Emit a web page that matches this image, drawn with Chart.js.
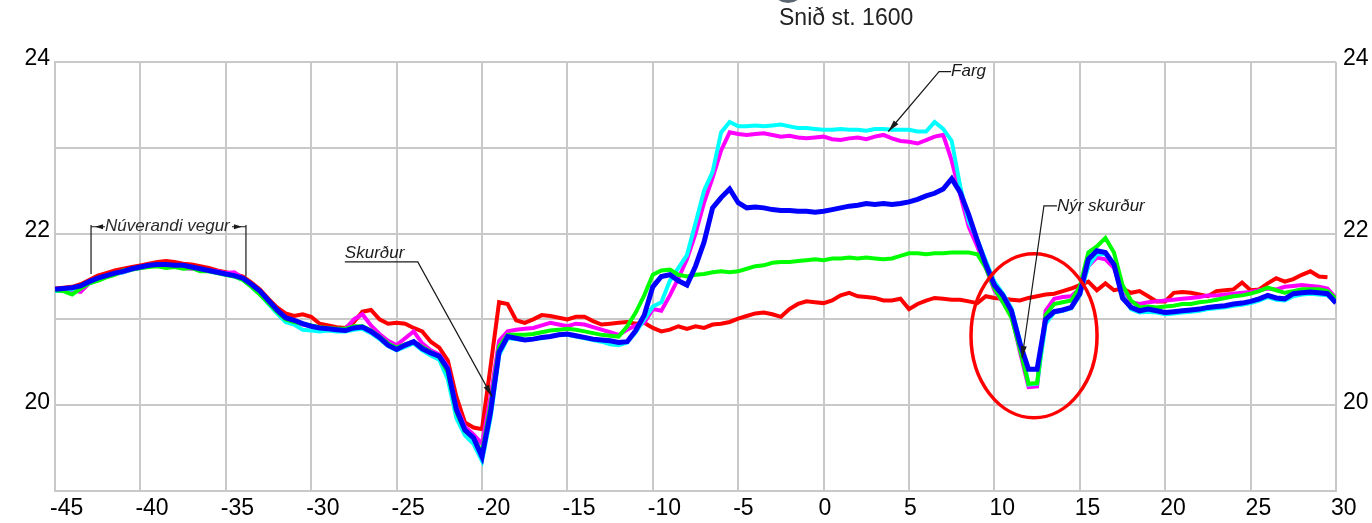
<!DOCTYPE html>
<html>
<head>
<meta charset="utf-8">
<script src="https://cdn.jsdelivr.net/npm/chart.js@4.4.1/dist/chart.umd.min.js"></script>
<style>
  html, body { margin: 0; padding: 0; background: #ffffff; }
  #wrap { width: 1372px; height: 523px; position: relative; }
</style>
</head>
<body>
<div id="wrap"><canvas id="c" width="1372" height="523"></canvas></div>
<script>
// Fjarlægð frá miðlínu (m)
const stations = [
  -45, -44.5, -44, -43.5, -43, -42.5, -42, -41.5, -41, -40.5,
  -40, -39.5, -39, -38.5, -38, -37.5, -37, -36.5, -36, -35.5,
  -35, -34.5, -34, -33.5, -33, -32.5, -32, -31.5, -31, -30.5,
  -30, -29.5, -29, -28.5, -28, -27.5, -27, -26.5, -26, -25.5,
  -25, -24.5, -24, -23.5, -23, -22.5, -22, -21.5, -21, -20.5,
  -20, -19.5, -19, -18.5, -18, -17.5, -17, -16.5, -16, -15.5,
  -15, -14.5, -14, -13.5, -13, -12.5, -12, -11.5, -11, -10.5,
  -10, -9.5, -9, -8.5, -8, -7.5, -7, -6.5, -6, -5.5,
  -5, -4.5, -4, -3.5, -3, -2.5, -2, -1.5, -1, -0.5,
  0, 0.5, 1, 1.5, 2, 2.5, 3, 3.5, 4, 4.5,
  5, 5.5, 6, 6.5, 7, 7.5, 8, 8.5, 9, 9.5,
  10, 10.5, 11, 11.5, 12, 12.5, 13, 13.5, 14, 14.5,
  15, 15.5, 16, 16.5, 17, 17.5, 18, 18.5, 19, 19.5,
  20, 20.5, 21, 21.5, 22, 22.5, 23, 23.5, 24, 24.5,
  25, 25.5, 26, 26.5, 27, 27.5, 28, 28.5, 29, 29.5,
  30
];

// Hæð yfirborðs (m) í hverri mælingu
const levelRed = [
  21.36, 21.37, 21.38, 21.41, 21.46, 21.51, 21.54, 21.57, 21.59, 21.61,
  21.63, 21.65, 21.67, 21.68, 21.67, 21.65, 21.64, 21.62, 21.60, 21.57,
  21.55, 21.53, 21.50, 21.43, 21.35, 21.24, 21.14, 21.07, 21.04, 21.06,
  21.03, 20.95, 20.93, 20.91, 20.90, 20.97, 21.09, 21.11, 21.00, 20.95,
  20.96, 20.95, 20.90, 20.86, 20.74, 20.67, 20.52, 20.10, 19.80, 19.74,
  19.72, 20.45, 21.20, 21.18, 20.99, 20.96, 21.00, 21.05, 21.04, 21.02,
  21.00, 21.03, 21.03, 20.98, 20.94, 20.95, 20.96, 20.97, 20.95, 20.96,
  20.90, 20.86, 20.88, 20.92, 20.89, 20.92, 20.90, 20.94, 20.95, 20.97,
  21.01, 21.04, 21.07, 21.08, 21.06, 21.03, 21.12, 21.18, 21.21, 21.20,
  21.19, 21.22, 21.28, 21.31, 21.27, 21.26, 21.25, 21.22, 21.22, 21.24,
  21.12, 21.18, 21.22, 21.25, 21.24, 21.23, 21.23, 21.21, 21.19, 21.27,
  21.25, 21.24, 21.23, 21.22, 21.25, 21.27, 21.29, 21.30, 21.33, 21.36,
  21.40, 21.44, 21.34, 21.42, 21.34, 21.36, 21.31, 21.33, 21.27, 21.21,
  21.21, 21.31, 21.32, 21.31, 21.29, 21.27, 21.33, 21.34, 21.35, 21.43,
  21.34, 21.35, 21.42, 21.48, 21.44, 21.47, 21.52, 21.56, 21.50, 21.49,
  null
];

const levelMagenta = [
  21.33, 21.35, 21.34, 21.32, 21.42, 21.46, 21.50, 21.53, 21.55, 21.58,
  21.60, 21.62, 21.63, 21.63, 21.62, 21.60, 21.59, 21.58, 21.57, 21.56,
  21.54, 21.55, 21.48, 21.40, 21.31, 21.20, 21.10, 21.01, 20.97, 20.94,
  20.92, 20.90, 20.88, 20.88, 20.89, 21.00, 21.06, 20.93, 20.83, 20.75,
  20.70, 20.78, 20.86, 20.72, 20.64, 20.59, 20.45, 19.98, 19.75, 19.66,
  19.55, 20.10, 20.75, 20.86, 20.88, 20.89, 20.90, 20.93, 20.96, 20.94,
  20.92, 20.95, 20.94, 20.91, 20.88, 20.85, 20.82, 20.88, 20.93, 20.96,
  21.12, 21.10, 21.28, 21.48, 21.70, 22.00, 22.36, 22.65, 22.97, 23.18,
  23.16, 23.15, 23.16, 23.17, 23.15, 23.13, 23.14, 23.12, 23.11, 23.12,
  23.13, 23.10, 23.09, 23.11, 23.12, 23.10, 23.13, 23.15, 23.11, 23.08,
  23.07, 23.05, 23.09, 23.13, 23.15, 22.85, 22.45, 22.08, 21.85, 21.60,
  21.34, 21.20, 21.05, 20.62, 20.21, 20.22, 21.10, 21.24, 21.26, 21.27,
  21.36, 21.62, 21.72, 21.70, 21.60, 21.30, 21.20, 21.18, 21.20, 21.21,
  21.22, 21.23, 21.24, 21.25, 21.26, 21.28, 21.28, 21.29, 21.30, 21.31,
  21.32, 21.34, 21.36, 21.35, 21.38, 21.39, 21.40, 21.39, 21.38, 21.36,
  21.25
];

const levelCyan = [
  21.33, 21.33, 21.35, 21.37, 21.42, 21.46, 21.50, 21.53, 21.55, 21.58,
  21.60, 21.62, 21.63, 21.63, 21.62, 21.61, 21.60, 21.58, 21.56, 21.54,
  21.52, 21.50, 21.46, 21.38, 21.29, 21.18, 21.07, 20.97, 20.94, 20.88,
  20.87, 20.86, 20.87, 20.86, 20.86, 20.88, 20.89, 20.84, 20.77, 20.69,
  20.64, 20.68, 20.72, 20.64, 20.58, 20.53, 20.30, 19.85, 19.65, 19.55,
  19.35, 19.85, 20.58, 20.78, 20.77, 20.76, 20.77, 20.78, 20.80, 20.82,
  20.82, 20.80, 20.78, 20.76, 20.74, 20.71, 20.70, 20.73, 20.85, 21.00,
  21.15, 21.20, 21.45, 21.60, 21.75, 22.12, 22.50, 22.72, 23.18, 23.30,
  23.25, 23.25, 23.26, 23.25, 23.26, 23.27, 23.25, 23.23, 23.23, 23.22,
  23.21, 23.21, 23.22, 23.21, 23.21, 23.20, 23.22, 23.22, 23.21, 23.21,
  23.21, 23.19, 23.19, 23.30, 23.22, 23.08, 22.55, 22.14, 21.93, 21.68,
  21.44, 21.30, 21.13, 20.75, 20.24, 20.25, 20.95, 21.08, 21.10, 21.13,
  21.28, 21.62, 21.76, 21.76, 21.65, 21.28, 21.12, 21.08, 21.09, 21.08,
  21.06, 21.07, 21.08, 21.09, 21.10, 21.12, 21.13, 21.14, 21.16, 21.17,
  21.19, 21.22, 21.26, 21.23, 21.22, 21.27, 21.29, 21.30, 21.29, 21.28,
  21.20
];

const levelGreen = [
  21.34, 21.33, 21.29, 21.36, 21.42, 21.45, 21.49, 21.52, 21.57, 21.58,
  21.60, 21.61, 21.62, 21.60, 21.61, 21.59, 21.60, 21.56, 21.56, 21.54,
  21.52, 21.50, 21.46, 21.38, 21.29, 21.19, 21.09, 21.00, 20.97, 20.95,
  20.93, 20.91, 20.90, 20.89, 20.89, 20.92, 20.92, 20.87, 20.80, 20.72,
  20.67, 20.71, 20.74, 20.68, 20.62, 20.56, 20.38, 19.92, 19.70, 19.62,
  19.45, 20.00, 20.68, 20.82, 20.82, 20.82, 20.83, 20.85, 20.87, 20.88,
  20.89, 20.88, 20.86, 20.84, 20.82, 20.81, 20.80, 20.92, 21.08, 21.28,
  21.52, 21.57, 21.58, 21.52, 21.50, 21.52, 21.53, 21.55, 21.56, 21.55,
  21.56, 21.59, 21.62, 21.63, 21.66, 21.67, 21.67, 21.68, 21.69, 21.70,
  21.69, 21.71, 21.71, 21.72, 21.71, 21.72, 21.71, 21.70, 21.71, 21.74,
  21.77, 21.77, 21.76, 21.77, 21.77, 21.78, 21.78, 21.78, 21.76, 21.60,
  21.36, 21.20, 21.02, 20.65, 20.25, 20.26, 21.05, 21.18, 21.20, 21.22,
  21.38, 21.78, 21.85, 21.95, 21.78, 21.40, 21.22, 21.14, 21.15, 21.14,
  21.15, 21.16, 21.18, 21.18, 21.20, 21.21, 21.23, 21.25, 21.27, 21.28,
  21.30, 21.33, 21.37, 21.34, 21.31, 21.33, 21.35, 21.35, 21.35, 21.33,
  21.24
];

const levelBlue = [
  21.35, 21.36, 21.37, 21.39, 21.44, 21.48, 21.51, 21.54, 21.56, 21.59,
  21.61, 21.63, 21.64, 21.64, 21.63, 21.63, 21.61, 21.59, 21.57, 21.55,
  21.53, 21.51, 21.48, 21.41, 21.33, 21.22, 21.11, 21.02, 20.99, 20.95,
  20.92, 20.90, 20.89, 20.88, 20.87, 20.90, 20.91, 20.86, 20.79, 20.70,
  20.65, 20.70, 20.74, 20.66, 20.61, 20.57, 20.42, 19.95, 19.71, 19.62,
  19.40, 19.92, 20.62, 20.80, 20.78, 20.76, 20.77, 20.79, 20.80, 20.82,
  20.83, 20.81, 20.79, 20.77, 20.76, 20.75, 20.73, 20.74, 20.87, 21.05,
  21.38, 21.50, 21.52, 21.45, 21.40, 21.62, 21.90, 22.30, 22.42, 22.52,
  22.36, 22.30, 22.31, 22.30, 22.28, 22.27, 22.27, 22.26, 22.26, 22.25,
  22.26, 22.28, 22.30, 22.32, 22.33, 22.35, 22.34, 22.35, 22.34, 22.35,
  22.37, 22.40, 22.44, 22.47, 22.52, 22.64, 22.48, 22.22, 21.92, 21.64,
  21.40, 21.28, 21.10, 20.72, 20.42, 20.42, 21.00, 21.09, 21.11, 21.14,
  21.30, 21.70, 21.80, 21.78, 21.64, 21.25, 21.14, 21.10, 21.12, 21.10,
  21.08, 21.09, 21.10, 21.11, 21.12, 21.14, 21.15, 21.16, 21.18, 21.19,
  21.21, 21.24, 21.28, 21.25, 21.24, 21.30, 21.31, 21.32, 21.31, 21.30,
  21.19
];

const xTickMin = -45, xTickMax = 30, xTickStep = 5;
const yTickMin = 19, yTickMax = 24, yTickStep = 1;

const titleText = 'Snið st. 1600';
const noteRoad = 'Núverandi vegur';
const noteDitch = 'Skurður';
const noteLoad = 'Farg';
const noteNewDitch = 'Nýr skurður';

const gridColor = '#c9c9c9';
const tickFont = { family: "'Liberation Sans', Arial, sans-serif", size: 23 };

function pts(values) {
  return stations.map((x, i) => ({ x: x, y: values[i] }));
}

function line(label, values, color, width) {
  return {
    label: label,
    data: pts(values),
    borderColor: color,
    backgroundColor: color,
    borderWidth: width,
    pointRadius: 0,
    tension: 0,
    fill: false,
    spanGaps: false,
    borderJoinStyle: 'miter'
  };
}

function arrowHead(ctx, x1, y1, x2, y2, len, half) {
  const a = Math.atan2(y2 - y1, x2 - x1);
  ctx.beginPath();
  ctx.moveTo(x2, y2);
  ctx.lineTo(x2 - len * Math.cos(a) + half * Math.sin(a), y2 - len * Math.sin(a) - half * Math.cos(a));
  ctx.lineTo(x2 - len * Math.cos(a) - half * Math.sin(a), y2 - len * Math.sin(a) + half * Math.cos(a));
  ctx.closePath();
  ctx.fill();
}

// Skýringar, teiknaðar í hnitum grafsins
const notesPlugin = {
  id: 'notes',
  afterDatasetsDraw(chart) {
    const ctx = chart.ctx;
    const xs = chart.scales.x, ys = chart.scales.y;
    const X = v => xs.getPixelForValue(v);
    const Y = v => ys.getPixelForValue(v);
    ctx.save();

    // hringur um nýja skurðinn
    ctx.strokeStyle = '#ff0000';
    ctx.lineWidth = 3.5;
    ctx.beginPath();
    const cx = X(12.32), cy = Y(20.81);
    ctx.ellipse(cx, cy, X(12.32 + 3.69) - cx, Y(20.81 - 0.956) - cy, 0, 0, Math.PI * 2);
    ctx.stroke();

    ctx.strokeStyle = '#1a1a1a';
    ctx.fillStyle = '#1a1a1a';
    ctx.lineWidth = 1.2;
    ctx.font = "italic 17px 'Liberation Sans', Arial, sans-serif";
    ctx.textBaseline = 'middle';
    ctx.textAlign = 'left';

    // Núverandi vegur: málsetning með tveimur stoðlínum
    const rl = X(-42.89), rr = X(-33.82), rTop = Y(22.10), rh = Y(22.08);
    ctx.beginPath();
    ctx.moveTo(rl, rTop); ctx.lineTo(rl, Y(21.53));
    ctx.moveTo(rr, rTop); ctx.lineTo(rr, Y(21.50));
    ctx.moveTo(rl, rh); ctx.lineTo(rl + 14, rh);
    ctx.moveTo(rr - 14, rh); ctx.lineTo(rr, rh);
    ctx.stroke();
    arrowHead(ctx, rl + 14, rh, rl + 4, rh, 8, 2.5);
    arrowHead(ctx, rr - 14, rh, rr - 4, rh, 8, 2.5);
    ctx.fillStyle = '#2a2a2a';
    ctx.fillText(noteRoad, rl + 14, rh);

    // Skurður: undirstrikaður texti og ör
    ctx.fillStyle = '#1a1a1a';
    const sx = X(-28.03), sy = Y(21.67);
    ctx.textBaseline = 'alphabetic';
    ctx.fillText(noteDitch, sx, sy - 4);
    const sEnd = X(-23.76), tipX = X(-19.41), tipY = Y(20.10);
    ctx.beginPath();
    ctx.moveTo(sx, sy); ctx.lineTo(sEnd, sy); ctx.lineTo(tipX, tipY);
    ctx.stroke();
    arrowHead(ctx, sEnd, sy, tipX, tipY, 12, 3);

    // Farg
    ctx.textBaseline = 'middle';
    const fElbX = X(6.76), fElbY = Y(23.887), fTipX = X(3.79), fTipY = Y(23.19);
    ctx.beginPath();
    ctx.moveTo(fElbX + 12, fElbY); ctx.lineTo(fElbX, fElbY); ctx.lineTo(fTipX, fTipY);
    ctx.stroke();
    arrowHead(ctx, fElbX, fElbY, fTipX, fTipY, 12, 3);
    ctx.fillText(noteLoad, fElbX + 12, fElbY);

    // Nýr skurður
    const nElbX = X(12.9), nElbY = Y(22.324), nTipX = X(11.62), nTipY = Y(20.55);
    ctx.beginPath();
    ctx.moveTo(nElbX + 13, nElbY); ctx.lineTo(nElbX, nElbY); ctx.lineTo(nTipX, nTipY);
    ctx.stroke();
    arrowHead(ctx, nElbX, nElbY, nTipX, nTipY, 12, 3);
    ctx.fillText(noteNewDitch, nElbX + 13, nElbY);

    ctx.restore();
  },
  afterDraw(chart) {
    const ctx = chart.ctx;
    ctx.save();
    // neðsti hluti merkis fyrir ofan fyrirsögnina
    ctx.fillStyle = '#5b6670';
    ctx.beginPath();
    ctx.ellipse(788, -12, 16, 15, 0, 0, Math.PI * 2);
    ctx.fill();
    ctx.fillStyle = '#222222';
    ctx.font = "23px 'Liberation Sans', Arial, sans-serif";
    ctx.textAlign = 'left';
    ctx.textBaseline = 'middle';
    ctx.fillText(titleText, 779, 19);
    ctx.restore();
  }
};

const chart = new Chart(document.getElementById('c'), {
  type: 'line',
  data: {
    datasets: [
      line('blár', levelBlue, '#0000ff', 5),
      line('grænn', levelGreen, '#00ff00', 4),
      line('blágrænn', levelCyan, '#00ffff', 4),
      line('bleikur', levelMagenta, '#ff00ff', 4),
      line('rauður', levelRed, '#ff0000', 4)
    ]
  },
  options: {
    responsive: false,
    animation: false,
    devicePixelRatio: 1,
    layout: { padding: { top: 62, left: 0, right: 0, bottom: 0 } },
    plugins: {
      legend: { display: false },
      tooltip: { enabled: false },
      title: { display: false }
    },
    scales: {
      x: {
        type: 'linear',
        min: xTickMin,
        max: xTickMax,
        afterFit: s => { s.height = 32; },
        grid: { color: gridColor, lineWidth: 2, drawTicks: false },
        border: { color: gridColor, width: 2 },
        ticks: {
          stepSize: xTickStep,
          align: 'start',
          labelOffset: -5,
          padding: 4,
          color: '#000000',
          font: tickFont,
          maxRotation: 0,
          autoSkip: false
        }
      },
      y: {
        type: 'linear',
        position: 'left',
        min: yTickMin,
        max: yTickMax,
        afterFit: s => { s.width = 55; },
        grid: { color: gridColor, lineWidth: 2, drawTicks: false },
        border: { color: gridColor, width: 2 },
        ticks: {
          stepSize: yTickStep,
          padding: 5,
          labelOffset: -3,
          color: '#000000',
          font: tickFont,
          callback: v => (v % 2 === 0 ? String(v) : '')
        }
      },
      yRight: {
        type: 'linear',
        position: 'right',
        min: yTickMin,
        max: yTickMax,
        afterFit: s => { s.width = 36; },
        grid: { drawOnChartArea: false, drawTicks: false },
        border: { display: false },
        ticks: {
          stepSize: yTickStep,
          padding: 7,
          labelOffset: -3,
          color: '#000000',
          font: tickFont,
          callback: v => (v % 2 === 0 ? String(v) : '')
        }
      }
    }
  },
  plugins: [notesPlugin]
});
</script>
</body>
</html>
